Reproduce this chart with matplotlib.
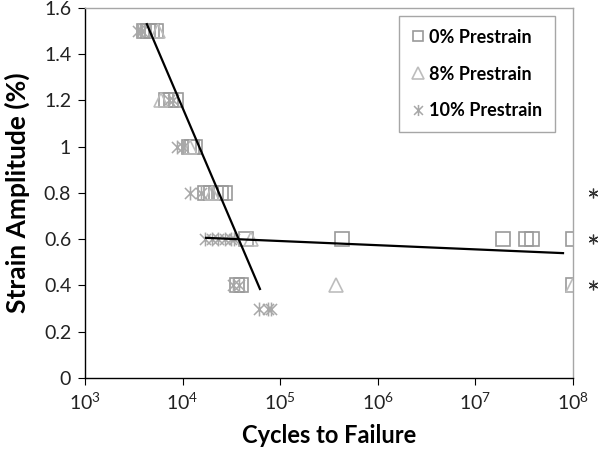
import matplotlib
matplotlib.use("Agg")
import matplotlib.pyplot as plt
from matplotlib.path import Path
from matplotlib.ticker import LogLocator, NullLocator, FixedLocator

# ─── DATA ─────────────────────────────────────────────────────────────────────
pre0_cycles = [4000, 4400, 4850, 5350, 6800, 7600, 8500, 11500, 12500, 13500,
               17000, 19500, 22000, 25000, 27500,
               45000, 4.3e5, 1.9e7, 3.3e7, 3.8e7, 1e8, 36000, 40000, 1e8]
pre0_strain = [1.5, 1.5, 1.5, 1.5, 1.2, 1.2, 1.2, 1.0, 1.0, 1.0,
               0.8, 0.8, 0.8, 0.8, 0.8,
               0.6, 0.6, 0.6, 0.6, 0.6, 0.6, 0.4, 0.4, 0.4]

pre8_cycles = [5600, 6000, 12000, 20000, 50000, 3.7e5, 1e8]
pre8_strain = [1.5, 1.2, 1.0, 0.8, 0.6, 0.4, 0.4]

pre10_cycles = [3500, 3800, 7200, 8000, 8800, 10000, 12000, 15500,
                17000, 20000, 23000, 27000, 31000, 34000,
                33000, 38000, 60000, 75000, 80000]
pre10_strain = [1.5, 1.5, 1.2, 1.2, 1.0, 1.0, 0.8, 0.8,
                0.6, 0.6, 0.6, 0.6, 0.6, 0.6,
                0.4, 0.4, 0.3, 0.3, 0.3]

fit1_cycles = [4300, 62000]
fit1_strain = [1.53, 0.385]
fit2_cycles = [17400, 7.9e7]
fit2_strain = [0.606, 0.54]

runout_cycles = [1.6e8, 1.6e8, 1.6e8]
runout_strain = [0.8, 0.6, 0.4]

y_ticks = [0, 0.2, 0.4, 0.6, 0.8, 1.0, 1.2, 1.4, 1.6]
y_labels = ["0", "0.2", "0.4", "0.6", "0.8", "1", "1.2", "1.4", "1.6"]
# ──────────────────────────────────────────────────────────────────────────────

plt.rcParams["font.family"] = ["Lato", "DejaVu Sans"]
plt.rcParams["mathtext.fontset"] = "custom"
plt.rcParams["mathtext.rm"] = "Lato"
plt.rcParams["mathtext.it"] = "Lato"
plt.rcParams["mathtext.bf"] = "Lato:bold"

# Excel-style asterisk: vertical bar plus an X
ast = Path([(0, -1), (0, 1), (-0.8, -0.8), (0.8, 0.8), (-0.8, 0.8), (0.8, -0.8)],
           [Path.MOVETO, Path.LINETO, Path.MOVETO, Path.LINETO, Path.MOVETO, Path.LINETO])

fig = plt.figure(figsize=(6.0, 4.54), dpi=100)
ax = fig.add_axes([0.1417, 0.1674, 0.8133, 0.8150])

ax.plot(pre0_cycles, pre0_strain, ls="none", marker="s", ms=9.5, mfc="none",
        mec="#9a9a9a", mew=1.2, label="0% Prestrain")
ax.plot(pre8_cycles, pre8_strain, ls="none", marker="^", ms=10, mfc="none",
        mec="#bdbdbd", mew=1.2, label="8% Prestrain")
ax.plot(pre10_cycles, pre10_strain, ls="none", marker=ast, ms=10,
        mec="#a8a8a8", mew=1.1, label="10% Prestrain")

ax.plot(fit1_cycles, fit1_strain, color="black", lw=1.6)
ax.plot(fit2_cycles, fit2_strain, color="black", lw=1.6)

# runout markers outside the plot area
ax.plot(runout_cycles, runout_strain, ls="none", marker=(6, 2, 0), ms=7,
        mec="#333333", mew=0.9, clip_on=False)

ax.set_xscale("log")
ax.set_xlim(1e3, 1e8)
ax.set_ylim(0, 1.6)
ax.xaxis.set_major_locator(LogLocator(base=10, numticks=10))
ax.xaxis.set_minor_locator(NullLocator())
ax.yaxis.set_major_locator(FixedLocator(y_ticks))
ax.set_yticklabels(y_labels)

for s in ["left", "bottom"]:
    ax.spines[s].set_color("black")
    ax.spines[s].set_linewidth(1.0)
for s in ["top", "right"]:
    ax.spines[s].set_color("#a6a6a6")
    ax.spines[s].set_linewidth(1.0)

ax.tick_params(axis="both", direction="out", length=5, width=0.8,
               colors="black", labelsize=14, pad=5)
for lbl in ax.get_xticklabels() + ax.get_yticklabels():
    lbl.set_color("#222222")

ax.set_xlabel("Cycles to Failure", fontsize=17, fontweight="bold", labelpad=8)
ax.set_ylabel("Strain Amplitude (%)", fontsize=19, fontweight="bold")
ax.yaxis.set_label_coords(-0.112, 0.5)

leg = ax.legend(loc="upper left", bbox_to_anchor=(0.643, 0.978), fancybox=False,
                edgecolor="#a6a6a6", framealpha=1, borderpad=0.7,
                labelspacing=1.1, handlelength=0.7, handletextpad=0.3,
                markerscale=0.8, borderaxespad=0,
                prop={"size": 13, "weight": "bold"})
leg.get_frame().set_linewidth(1.0)

fig.savefig("out.png", dpi=100)
